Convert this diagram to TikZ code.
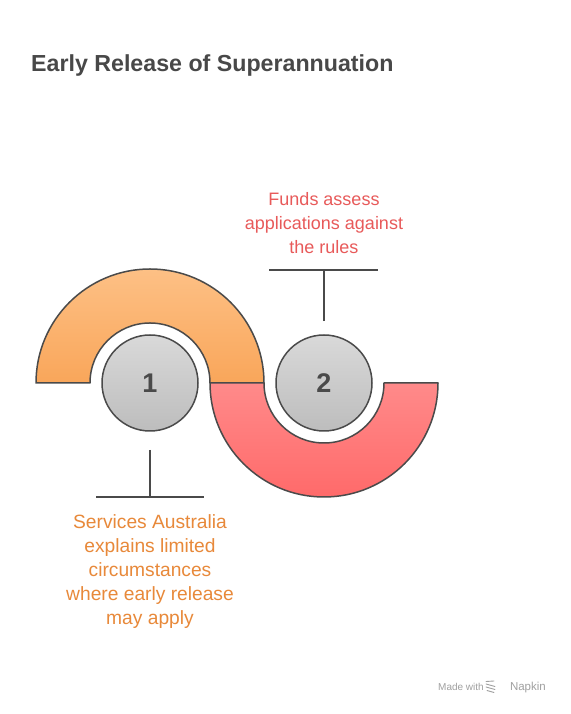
\documentclass[tikz,border=0pt]{standalone}
\usepackage{fontspec}
\setmainfont{Liberation Sans}
\usetikzlibrary{calc}
\definecolor{titlegray}{HTML}{484848}
\definecolor{edgegray}{HTML}{4A4A4A}
\definecolor{orangetxt}{HTML}{E8893A}
\definecolor{redtxt}{HTML}{E85A5A}
\definecolor{orangetop}{HTML}{FDC085}
\definecolor{orangebot}{HTML}{F9A65A}
\definecolor{redtop}{HTML}{FF8A8A}
\definecolor{redbot}{HTML}{FF6A6A}
\definecolor{graytop}{HTML}{D9D9D9}
\definecolor{graybot}{HTML}{BDBDBD}
\definecolor{napkingray}{HTML}{A0A0A0}
\tikzset{
  band/.style={draw=edgegray, line width=1.5pt, line join=round},
  disc/.style={circle, draw=edgegray, line width=1.5pt, minimum size=96pt, inner sep=0pt,
    top color=graytop, bottom color=graybot, text=edgegray,
    font=\fontsize{27}{30}\selectfont\bfseries},
  leader/.style={draw=edgegray, line width=1.5pt},
  desc/.style={align=center, inner sep=0pt}
}
\begin{document}
\begin{tikzpicture}[x=1pt,y=1pt]
\useasboundingbox (0,0) rectangle (570,714);
\fill[white] (0,0) rectangle (570,714);
% title
\node[anchor=base west, inner sep=0pt, text=titlegray, font=\fontsize{23.2}{28}\selectfont\bfseries] (title) at (31,642) {Early Release of Superannuation};
% bands
\path[band, top color=orangetop, bottom color=orangebot]
  (36,331) arc[start angle=180, end angle=0, radius=114] -- (210,331)
  arc[start angle=0, end angle=180, radius=60] -- cycle;
\path[band, top color=redtop, bottom color=redbot]
  (210,331) arc[start angle=180, end angle=360, radius=114] -- (384,331)
  arc[start angle=360, end angle=180, radius=60] -- cycle;
% discs
\node[disc] (c1) at (150,331) {1};
\node[disc] (c2) at (324,331) {2};
% leaders
\coordinate (t2) at (324,444);
\coordinate (t2l) at (269,444);
\coordinate (t2r) at (378,444);
\coordinate (b1) at (150,264);
\coordinate (b1top) at (150,217);
\coordinate (b1l) at (96,217);
\coordinate (b1r) at (204,217);
\draw[leader] ($(c2.north)+(0,13)$) -- (t2);
\draw[leader] (t2l) -- (t2r);
\draw[leader] (b1) -- (b1top);
\draw[leader] (b1l) -- (b1r);
% descriptions (base anchor = last line baseline)
\node[desc, text=redtxt, anchor=base, font=\fontsize{18}{24}\selectfont] (d2) at (324,460) {Funds assess\\applications against\\the rules};
\node[desc, text=orangetxt, anchor=base, font=\fontsize{19.2}{24}\selectfont] (d1) at (150,89) {Services Australia\\explains limited\\circumstances\\where early release\\may apply};
% footer
\node[anchor=base west, inner sep=0pt, text=napkingray, font=\fontsize{10}{12}\selectfont] (made) at (438,23) {Made with};
\node[anchor=base east, inner sep=0pt, text=napkingray, font=\fontsize{11.5}{13}\selectfont] (napkin) at (546,23) {Napkin};
\draw[napkingray, line width=0.9pt, line cap=round]
  (486,32.5) -- (494,33) (486,30) -- (495,27.5) (486,27) -- (495,24.5) (487,23.5) -- (494,21.5);
\end{tikzpicture}
\end{document}
